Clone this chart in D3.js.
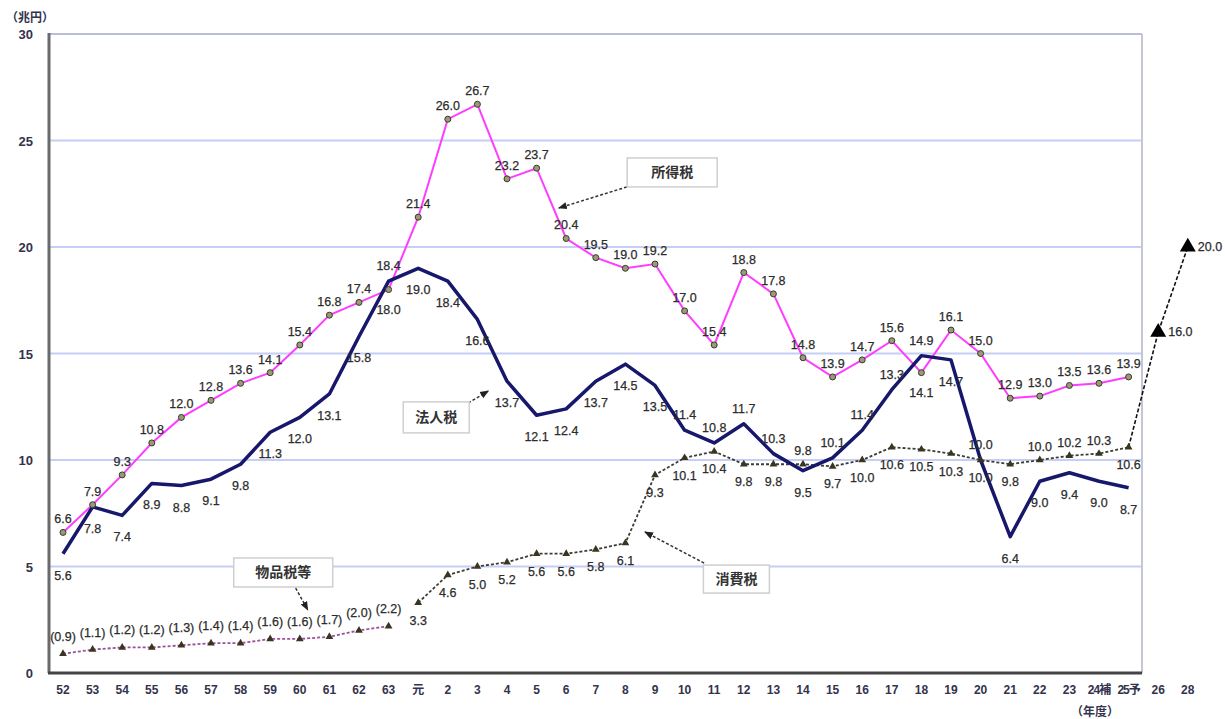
<!DOCTYPE html>
<html lang="ja">
<head>
    <meta charset="UTF-8">
    <title>税目別税収の推移</title>
    <script src="https://d3js.org/d3.v7.min.js"></script>
    <style>
        body { margin: 0; background: #fff; }
        text { font-family: 'Liberation Sans', Arial, 'Noto Sans CJK JP', sans-serif; }
        .lbl { font-size: 12.5px; fill: #2c2c2c; stroke: #2c2c2c; stroke-width: 0.25px; }
        .tick { font-size: 12px; font-weight: bold; fill: #33334d; }
        .box text { font-family: 'Noto Sans CJK JP', sans-serif; font-size: 14px; font-weight: bold; fill: #333; }
    </style>
</head>
<body>

<script>
    const width  = 1225;
    const height = 719;

    // fiscal years (昭和52 ... 平成28)
    const years = ["52","53","54","55","56","57","58","59","60","61","62","63","元",
        "2","3","4","5","6","7","8","9","10","11","12","13","14","15","16","17","18",
        "19","20","21","22","23","24補","25予","26","28"];

    // 所得税
    const incomeYears = years.slice(0, 37);
    const incomeTax = [6.6,7.9,9.3,10.8,12.0,12.8,13.6,14.1,15.4,16.8,17.4,18.0,21.4,
        26.0,26.7,23.2,23.7,20.4,19.5,19.0,19.2,17.0,15.4,18.8,17.8,14.8,13.9,14.7,
        15.6,14.1,16.1,15.0,12.9,13.0,13.5,13.6,13.9];

    // 法人税
    const corpYears = years.slice(0, 37);
    const corpTax = [5.6,7.8,7.4,8.9,8.8,9.1,9.8,11.3,12.0,13.1,15.8,18.4,19.0,
        18.4,16.6,13.7,12.1,12.4,13.7,14.5,13.5,11.4,10.8,11.7,10.3,9.5,10.1,11.4,
        13.3,14.9,14.7,10.0,6.4,9.0,9.4,9.0,8.7];

    // 消費税
    const consYears = years.slice(12, 37);
    const consTax = [3.3,4.6,5.0,5.2,5.6,5.6,5.8,6.1,9.3,10.1,10.4,9.8,9.8,9.8,9.7,
        10.0,10.6,10.5,10.3,10.0,9.8,10.0,10.2,10.3,10.6];

    // 物品税等
    const goodsYears = years.slice(0, 12);
    const goodsTax = [0.9,1.1,1.2,1.2,1.3,1.4,1.4,1.6,1.6,1.7,2.0,2.2];

    // 消費税 見通し
    const projYears = ["25予","26","28"];
    const projTax = [10.6,16.0,20.0];

    const yTicks = [0,5,10,15,20,25,30];

    // label placement: default side per series, and the years where it flips
    const incomeBelow = new Set(["63","18"]);
    const corpAbove = new Set(["63","10","11","12","13","15","16","17","18","20"]);
    const consAbove = new Set(["14","22","23","24補"]);

    const plot = {left: 49, right: 1142, top: 34, bottom: 673};

    const x = d3.scalePoint().domain(years).range([63, 63 + 38 * 29.6]);
    const xi = d3.scaleLinear().domain([0, years.length - 1]).range([63, 63 + 38 * 29.6]);
    const y = d3.scaleLinear().domain([0, 30]).range([plot.bottom, plot.top]);

    const svg = d3.select("body").append("svg")
        .attr("width", width).attr("height", height);

    const defs = svg.append("defs");
    defs.append("marker").attr("id", "ah")
        .attr("viewBox", "0 0 10 10").attr("refX", 9).attr("refY", 5)
        .attr("markerWidth", 6).attr("markerHeight", 6).attr("orient", "auto")
        .append("path").attr("d", "M0,1L10,5L0,9Z").attr("fill", "#222");

    // grid
    svg.append("g").selectAll("line").data(yTicks.filter(d => d > 0 && d < 30)).join("line")
        .attr("x1", plot.left).attr("x2", plot.right)
        .attr("y1", d => y(d)).attr("y2", d => y(d))
        .attr("stroke", "#c6cef6").attr("stroke-width", 2);

    // frame
    svg.append("line").attr("x1", plot.left).attr("x2", plot.right)
        .attr("y1", y(30)).attr("y2", y(30)).attr("stroke", "#b9bdd6").attr("stroke-width", 2);
    svg.append("line").attr("x1", plot.right).attr("x2", plot.right)
        .attr("y1", y(30)).attr("y2", y(0)).attr("stroke", "#c4c6d6").attr("stroke-width", 2);
    svg.append("line").attr("x1", plot.left).attr("x2", plot.left)
        .attr("y1", y(30) - 1).attr("y2", y(0)).attr("stroke", "#6a6a6a").attr("stroke-width", 3);
    svg.append("line").attr("x1", plot.left - 1).attr("x2", plot.right)
        .attr("y1", y(0)).attr("y2", y(0)).attr("stroke", "#444").attr("stroke-width", 3);

    // y ticks
    svg.append("g").selectAll("text").data(yTicks).join("text")
        .attr("class", "tick").style("font-size", "13px")
        .attr("x", 33).attr("y", d => y(d) + 5)
        .attr("text-anchor", "end").text(d => d);
    svg.append("text").attr("class", "tick")
        .style("font-family", "'Noto Sans CJK JP', sans-serif").style("font-size", "12px")
        .attr("x", 6).attr("y", 22).text("（兆円）");

    // x ticks
    svg.append("g").selectAll("text").data(years).join("text")
        .attr("class", "tick")
        .style("font-family", d => /[^0-9]/.test(d) ? "'Liberation Sans', 'Noto Sans CJK JP', sans-serif" : null)
        .style("letter-spacing", d => d.length > 2 ? "-1px" : null)
        .attr("x", d => x(d)).attr("y", 694)
        .attr("text-anchor", "middle").text(d => d);
    svg.append("text").attr("class", "tick")
        .style("font-family", "'Noto Sans CJK JP', sans-serif").style("font-size", "12px")
        .attr("x", x("24補") - 4).attr("y", 716).attr("text-anchor", "middle").text("（年度）");

    const line = d3.line().x(d => x(d[0])).y(d => y(d[1]));
    const zip = (a, b) => a.map((d, i) => [d, b[i]]);

    const income = zip(incomeYears, incomeTax);
    const corp = zip(corpYears, corpTax);
    const cons = zip(consYears, consTax);
    const goods = zip(goodsYears, goodsTax);
    const proj = zip(projYears, projTax);

    // 物品税等
    svg.append("path").datum(goods).attr("d", line)
        .attr("fill", "none").attr("stroke", "#9c4f9c").attr("stroke-width", 1.8)
        .attr("stroke-dasharray", "3,2");
    // 消費税
    svg.append("path").datum(cons).attr("d", line)
        .attr("fill", "none").attr("stroke", "#3d3d35").attr("stroke-width", 1.8)
        .attr("stroke-dasharray", "3,2");
    // 見通し
    svg.append("path").datum(proj).attr("d", line)
        .attr("fill", "none").attr("stroke", "#111").attr("stroke-width", 1.6)
        .attr("stroke-dasharray", "4,2");
    // 所得税
    svg.append("path").datum(income).attr("d", line)
        .attr("fill", "none").attr("stroke", "#ff3cff").attr("stroke-width", 2);
    // 法人税
    svg.append("path").datum(corp).attr("d", line)
        .attr("fill", "none").attr("stroke", "#17176b").attr("stroke-width", 3.5)
        .attr("stroke-linejoin", "round");

    // markers
    const tri = d3.symbol().type(d3.symbolTriangle).size(26);
    svg.append("g").selectAll("path").data(goods.concat(cons)).join("path")
        .attr("d", tri).attr("transform", d => `translate(${x(d[0])},${y(d[1])})`)
        .attr("fill", "#3a3520");
    svg.append("g").selectAll("circle").data(income).join("circle")
        .attr("cx", d => x(d[0])).attr("cy", d => y(d[1])).attr("r", 3)
        .attr("fill", "#9a9a7a").attr("stroke", "#3a3a2a").attr("stroke-width", 1);
    const bigTri = d3.symbol().type(d3.symbolTriangle).size(110);
    svg.append("g").selectAll("path").data(proj.slice(1)).join("path")
        .attr("d", bigTri).attr("transform", d => `translate(${x(d[0])},${y(d[1])})`)
        .attr("fill", "#000");

    // value labels
    function labels(data, fmt, isAbove, up, down) {
        svg.append("g").selectAll("text").data(data).join("text")
            .attr("class", "lbl")
            .attr("x", d => x(d[0]))
            .attr("y", d => y(d[1]) + (isAbove(d[0]) ? up : down))
            .attr("text-anchor", "middle")
            .text(d => fmt(d[1]));
    }
    const f1 = d3.format(".1f");
    labels(income, f1, d => !incomeBelow.has(d), -9, 24);
    labels(corp, f1, d => corpAbove.has(d), -11, 26);
    labels(cons, f1, d => consAbove.has(d), -9, 22);
    labels(goods, d => "(" + f1(d) + ")", () => true, -13, 0);
    svg.append("g").selectAll("text").data(proj.slice(1)).join("text")
        .attr("class", "lbl")
        .attr("x", d => x(d[0]) + 10).attr("y", d => y(d[1]) + 4)
        .text(d => f1(d[1]));

    // legend call-outs, placed in data space (fractional year index, value)
    const notes = [
        {name: "所得税",   box: [20.58, 23.5], w: 90, h: 29, from: [19.05, 22.82], to: [16.75, 21.83]},
        {name: "法人税",   box: [12.61, 12.0], w: 66, h: 31, from: [13.69, 12.68], to: [14.37, 13.24]},
        {name: "消費税",   box: [22.75, 4.41], w: 66, h: 28, from: [21.66, 5.16],  to: [19.66, 6.62]},
        {name: "物品税等", box: [7.44, 4.72],  w: 99, h: 29, from: [7.86, 3.99],   to: [8.27, 2.96]}
    ];
    const box = svg.append("g").attr("class", "box").selectAll("g").data(notes).join("g");
    box.append("line")
        .attr("x1", d => xi(d.from[0])).attr("y1", d => y(d.from[1]))
        .attr("x2", d => xi(d.to[0])).attr("y2", d => y(d.to[1]))
        .attr("stroke", "#333").attr("stroke-width", 1.5).attr("stroke-dasharray", "3,2")
        .attr("marker-end", "url(#ah)");
    box.append("rect")
        .attr("x", d => xi(d.box[0]) - d.w / 2).attr("y", d => y(d.box[1]) - d.h / 2)
        .attr("width", d => d.w).attr("height", d => d.h)
        .attr("fill", "#fff").attr("stroke", "#cfcfcf").attr("stroke-width", 1.5);
    box.append("text")
        .attr("x", d => xi(d.box[0])).attr("y", d => y(d.box[1]) + 5)
        .attr("text-anchor", "middle").text(d => d.name);
</script>

</body>
</html>
